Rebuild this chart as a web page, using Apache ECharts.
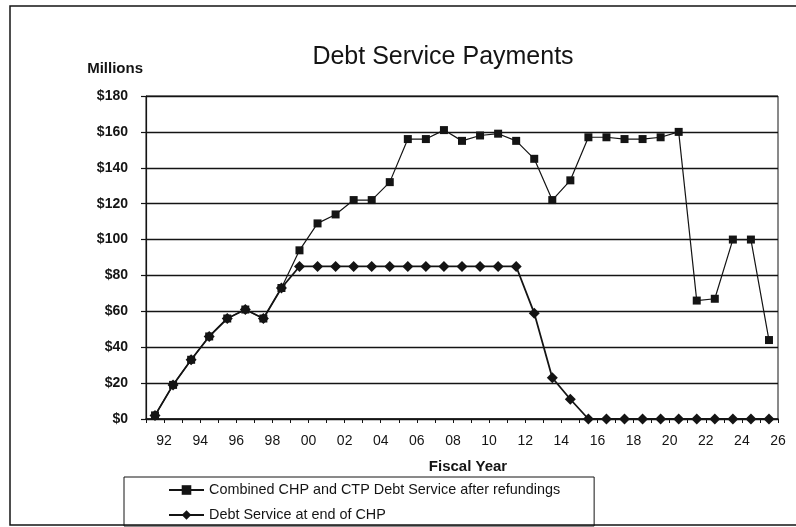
<!DOCTYPE html>
<html>
<head>
<meta charset="utf-8">
<title>Debt Service Payments</title>
<script src="https://cdn.jsdelivr.net/npm/echarts@6/dist/echarts.min.js"></script>
<style>
  html, body { margin: 0; padding: 0; background: #ffffff; }
  #chart { width: 796px; height: 527px; }
</style>
</head>
<body>
<div id="chart"></div>
<script>
// Fiscal years 1991-2025 (two-digit labels)
const fiscalYears = ['91','92','93','94','95','96','97','98','99','00','01','02','03','04','05','06','07','08',
                     '09','10','11','12','13','14','15','16','17','18','19','20','21','22','23','24','25'];

// Year-boundary tick labels shown under the axis
const xTickLabels = ['92','94','96','98','00','02','04','06','08','10','12','14','16','18','20','22','24','26'];

// Annual debt service, $ millions
const combinedAfterRefundings = [2, 19, 33, 46, 56, 61, 56, 73, 94, 109, 114, 122, 122, 132, 156, 156, 161, 155,
                                 158, 159, 155, 145, 122, 133, 157, 157, 156, 156, 157, 160, 66, 67, 100, 100, 44];
const endOfCHP = [2, 19, 33, 46, 56, 61, 56, 73, 85, 85, 85, 85, 85, 85, 85, 85, 85, 85,
                  85, 85, 85, 59, 23, 11, 0, 0, 0, 0, 0, 0, 0, 0, 0, 0, 0];

const seriesNames = ['Combined CHP and CTP Debt Service after refundings', 'Debt Service at end of CHP'];

const FONT = '"Liberation Sans", Arial, sans-serif';
const INK = '#141414';

const chart = echarts.init(document.getElementById('chart'), null, { renderer: 'canvas' });

chart.setOption({
  backgroundColor: '#ffffff',
  animation: false,
  textStyle: { fontFamily: FONT, color: INK },
  title: {
    text: 'Debt Service Payments',
    left: 438,
    top: 40,
    textAlign: 'center',
    textStyle: { fontFamily: FONT, fontSize: 25, fontWeight: 'normal', color: INK }
  },
  grid: {
    left: 146, right: 18, top: 96, bottom: 108,
    show: true, borderColor: INK, borderWidth: 1, backgroundColor: 'transparent'
  },
  legend: {
    orient: 'vertical',
    left: 124,
    bottom: 1,
    padding: [6, 34, 4, 44],
    itemWidth: 35,
    itemHeight: 12,
    itemGap: 11,
    borderColor: INK,
    borderWidth: 1,
    data: seriesNames,
    textStyle: { fontFamily: FONT, fontSize: 14.4, color: INK }
  },
  xAxis: [
    {
      type: 'category',
      data: fiscalYears,
      boundaryGap: true,
      position: 'bottom',
      axisLine: { show: false },
      axisTick: { show: false },
      axisLabel: { show: false }
    },
    {
      type: 'value',
      min: 0,
      max: fiscalYears.length,
      interval: 1,
      position: 'bottom',
      axisLine: { show: true, lineStyle: { color: INK, width: 1.5 } },
      axisTick: { show: true, length: 4, lineStyle: { color: INK, width: 1 } },
      splitLine: { show: false },
      axisLabel: {
        margin: 15,
        fontSize: 14,
        color: INK,
        fontFamily: FONT,
        formatter: (v) => (v % 2 === 1 ? xTickLabels[(v - 1) / 2] : '')
      }
    }
  ],
  yAxis: {
    type: 'value',
    min: 0,
    max: 180,
    interval: 20,
    name: 'Millions',
    nameLocation: 'end',
    nameGap: 27,
    nameTextStyle: { fontFamily: FONT, fontSize: 15, fontWeight: 'bold', color: INK, align: 'right', verticalAlign: 'middle', padding: [0, 3, 0, 0] },
    axisLine: { show: true, lineStyle: { color: INK, width: 1.2 } },
    axisTick: { show: true, length: 5, lineStyle: { color: INK, width: 1.2 } },
    splitLine: { show: true, lineStyle: { color: INK, width: 1.4 } },
    axisLabel: {
      margin: 18,
      fontSize: 14,
      fontWeight: 'bold',
      color: INK,
      fontFamily: FONT,
      formatter: (v) => '$' + v
    }
  },
  graphic: [
    {
      type: 'rect',
      silent: true,
      shape: { x: 10, y: 6, width: 800, height: 519 },
      style: { fill: 'none', stroke: INK, lineWidth: 1.5 }
    },
    {
      type: 'text',
      silent: true,
      x: 468,
      y: 467,
      style: {
        text: 'Fiscal Year',
        font: 'bold 15px ' + FONT,
        fill: INK,
        textAlign: 'center',
        textVerticalAlign: 'middle'
      }
    }
  ],
  series: [
    {
      name: seriesNames[0],
      type: 'line',
      xAxisIndex: 0,
      data: combinedAfterRefundings,
      symbol: 'rect',
      symbolSize: 8,
      showAllSymbol: true,
      color: INK,
      itemStyle: { color: INK },
      lineStyle: { color: INK, width: 1.2 },
      z: 3
    },
    {
      name: seriesNames[1],
      type: 'line',
      xAxisIndex: 0,
      data: endOfCHP,
      symbol: 'diamond',
      symbolSize: 11,
      showAllSymbol: true,
      color: INK,
      itemStyle: { color: INK },
      lineStyle: { color: INK, width: 1.8 },
      z: 4
    }
  ]
});
</script>
</body>
</html>
